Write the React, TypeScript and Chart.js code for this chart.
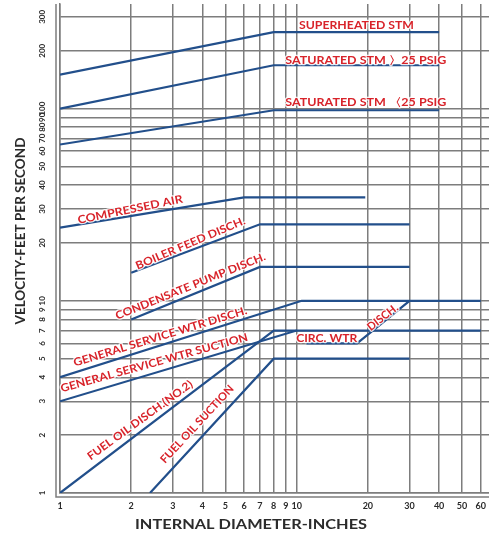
import React, { useEffect, useRef } from 'react';
import Chart from 'chart.js/auto';

// ---- axes ----
const X_GRID = [1, 2, 3, 4, 5, 6, 7, 8, 9, 10, 20, 30, 40, 50, 60];
const Y_GRID = [1, 2, 3, 4, 5, 6, 7, 8, 9, 10, 20, 30, 40, 50, 60, 70, 80, 90, 100, 200, 300];
const X_TICK_LABELS = X_GRID.map(String);
const Y_TICK_LABELS = Y_GRID.map(String);
const X_TITLE = 'INTERNAL DIAMETER-INCHES';
const Y_TITLE = 'VELOCITY-FEET PER SECOND';

// ---- series (diameter in inches, velocity in ft/s) ----
const SUPERHEATED_X = [1, 8, 40];
const SUPERHEATED_Y = [150, 250, 250];
const SAT_HI_X = [1, 8, 40];
const SAT_HI_Y = [100, 168, 168];
const SAT_LO_X = [1, 8, 40];
const SAT_LO_Y = [65, 98, 98];
const AIR_X = [1, 6, 19.5];
const AIR_Y = [24, 34.5, 34.5];
const BOILER_X = [2, 7, 30];
const BOILER_Y = [14, 25, 25];
const CONDENSATE_X = [2, 7, 30];
const CONDENSATE_Y = [8, 15, 15];
const GS_DISCH_X = [1, 10.5, 60];
const GS_DISCH_Y = [4, 10, 10];
const GS_SUCTION_X = [1, 10, 60];
const GS_SUCTION_Y = [3, 7, 7];
const FUEL_DISCH_X = [1, 8, 10];
const FUEL_DISCH_Y = [1, 7, 7];
const FUEL_SUCTION_X = [2.4, 8, 30];
const FUEL_SUCTION_Y = [1, 5, 5];
const CIRC_X = [11, 18, 30];
const CIRC_Y = [6, 6, 10];

const SERIES = [
  { name: 'SUPERHEATED STM', x: SUPERHEATED_X, y: SUPERHEATED_Y },
  { name: 'SATURATED STM > 25 PSIG', x: SAT_HI_X, y: SAT_HI_Y },
  { name: 'SATURATED STM < 25 PSIG', x: SAT_LO_X, y: SAT_LO_Y },
  { name: 'COMPRESSED AIR', x: AIR_X, y: AIR_Y },
  { name: 'BOILER FEED DISCH.', x: BOILER_X, y: BOILER_Y },
  { name: 'CONDENSATE PUMP DISCH.', x: CONDENSATE_X, y: CONDENSATE_Y },
  { name: 'GENERAL SERVICE WTR DISCH.', x: GS_DISCH_X, y: GS_DISCH_Y },
  { name: 'GENERAL SERVICE WTR SUCTION', x: GS_SUCTION_X, y: GS_SUCTION_Y },
  { name: 'FUEL OIL DISCH.(NO.2)', x: FUEL_DISCH_X, y: FUEL_DISCH_Y },
  { name: 'FUEL OIL SUCTION', x: FUEL_SUCTION_X, y: FUEL_SUCTION_Y },
  { name: 'CIRC. WTR DISCH.', x: CIRC_X, y: CIRC_Y },
];

// ---- in-chart labels (anchor in data units, angle in degrees, width in px) ----
const LABEL_TEXT = [
  'SUPERHEATED STM',
  'SATURATED STM 〉25 PSIG',
  'SATURATED STM 〈25 PSIG',
  'COMPRESSED AIR',
  'BOILER FEED DISCH.',
  'CONDENSATE PUMP DISCH.',
  'GENERAL SERVICE WTR DISCH.',
  'GENERAL SERVICE WTR SUCTION',
  'FUEL OIL DISCH.(NO.2)',
  'FUEL OIL SUCTION',
  'CIRC. WTR',
  'DISCH.',
];
const LABEL_X = [17.9, 19.6, 19.6, 1.98, 3.56, 3.56, 2.65, 2.5, 2.18, 3.8, 13.4, 23.1];
const LABEL_Y = [272, 177, 107, 29.8, 19.9, 11.9, 6.5, 4.75, 2.39, 2.28, 6.38, 8.2];
const LABEL_ANGLE = [0, 0, 0, -11.5, -23, -22, -17, -15.5, -36, -47, 0, -38];
const LABEL_WIDTH = [115, 161, 161, 107, 118, 161, 181, 194, 127, 102, 61, 36];

const LINE_COLOR = '#224f8b';
const GRID_COLOR = '#7d7d7d';
const LABEL_COLOR = '#d8232a';
const TEXT_COLOR = '#2b2b2b';
const FONT = 'Lato, "Open Sans", "DejaVu Sans", sans-serif';

function fitText(
  ctx: CanvasRenderingContext2D,
  text: string,
  cx: number,
  cy: number,
  angleDeg: number,
  width: number,
  font: string,
  color: string,
  halo: boolean
) {
  ctx.save();
  ctx.translate(cx, cy);
  ctx.rotate((angleDeg * Math.PI) / 180);
  ctx.font = font;
  const w = ctx.measureText(text).width || 1;
  ctx.scale(width / w, 1);
  ctx.textAlign = 'center';
  ctx.textBaseline = 'middle';
  if (halo) {
    ctx.strokeStyle = 'rgba(255,255,255,0.85)';
    ctx.lineWidth = 2.5;
    ctx.lineJoin = 'round';
    ctx.strokeText(text, 0, 0);
  }
  ctx.fillStyle = color;
  ctx.fillText(text, 0, 0);
  ctx.restore();
}

const overlay = {
  id: 'overlay',
  beforeDatasetsDraw(chart: any) {
    const { ctx, chartArea: a } = chart;
    ctx.save();
    ctx.strokeStyle = GRID_COLOR;
    ctx.lineWidth = 1.5;
    ctx.beginPath();
    ctx.moveTo(a.left - 4, a.top);
    ctx.lineTo(a.left - 4, a.bottom + 4);
    ctx.lineTo(a.right, a.bottom + 4);
    ctx.stroke();
    ctx.restore();
  },
  afterDatasetsDraw(chart: any) {
    const { ctx, scales } = chart;
    LABEL_TEXT.forEach((t, i) => {
      const px = scales.x.getPixelForValue(LABEL_X[i]);
      const py = scales.y.getPixelForValue(LABEL_Y[i]);
      fitText(ctx, t, px, py, LABEL_ANGLE[i], LABEL_WIDTH[i], `bold 11px ${FONT}`, LABEL_COLOR, true);
    });
  },
  afterDraw(chart: any) {
    const { ctx, scales, chartArea: a } = chart;
    ctx.save();
    ctx.fillStyle = TEXT_COLOR;
    ctx.font = `bold 9px ${FONT}`;
    ctx.textAlign = 'center';
    ctx.textBaseline = 'middle';
    X_GRID.forEach((v, i) => {
      ctx.fillText(X_TICK_LABELS[i], scales.x.getPixelForValue(v), a.bottom + 13);
    });
    ctx.font = `bold 8px ${FONT}`;
    Y_GRID.forEach((v, i) => {
      ctx.save();
      ctx.translate(42, scales.y.getPixelForValue(v));
      ctx.rotate(-Math.PI / 2);
      ctx.fillText(Y_TICK_LABELS[i], 0, 0);
      ctx.restore();
    });
    ctx.restore();
    fitText(ctx, X_TITLE, 251, 524, 0, 232, `bold 14px ${FONT}`, TEXT_COLOR, false);
    fitText(ctx, Y_TITLE, 21, 231, -90, 187, `bold 13px ${FONT}`, TEXT_COLOR, false);
  },
};

export default function App() {
  const ref = useRef<HTMLCanvasElement>(null);
  useEffect(() => {
    const canvas = ref.current as HTMLCanvasElement;
    const gridOpts = { color: GRID_COLOR, lineWidth: 1.5, drawTicks: false };
    const chart = new Chart(canvas, {
      type: 'line',
      data: {
        datasets: SERIES.map((s) => ({
          label: s.name,
          data: s.x.map((x, i) => ({ x, y: s.y[i] })),
          borderColor: LINE_COLOR,
          backgroundColor: LINE_COLOR,
          borderWidth: 2.2,
          pointRadius: 0,
          tension: 0,
          fill: false,
        })),
      },
      options: {
        animation: false,
        responsive: true,
        maintainAspectRatio: false,
        layout: { padding: { top: 4, left: 0, right: 0, bottom: 0 } },
        plugins: { legend: { display: false }, tooltip: { enabled: false } },
        scales: {
          x: {
            type: 'logarithmic',
            min: 1,
            max: 65,
            afterBuildTicks: (s: any) => {
              s.ticks = X_GRID.map((v) => ({ value: v }));
            },
            afterFit: (s: any) => {
              s.height = 42;
            },
            ticks: { display: false },
            grid: gridOpts,
            border: { display: true, color: GRID_COLOR, width: 1.5 },
          },
          y: {
            type: 'logarithmic',
            min: 1,
            max: 350,
            afterBuildTicks: (s: any) => {
              s.ticks = Y_GRID.map((v) => ({ value: v }));
            },
            afterFit: (s: any) => {
              s.width = 60;
            },
            ticks: { display: false },
            grid: gridOpts,
            border: { display: true, color: GRID_COLOR, width: 1.5 },
          },
        },
      } as any,
      plugins: [overlay],
    });
    return () => chart.destroy();
  }, []);
  return (
    <div style={{ position: 'fixed', left: 0, top: 0, width: 489, height: 535, background: '#fff' }}>
      <canvas ref={ref} />
    </div>
  );
}
